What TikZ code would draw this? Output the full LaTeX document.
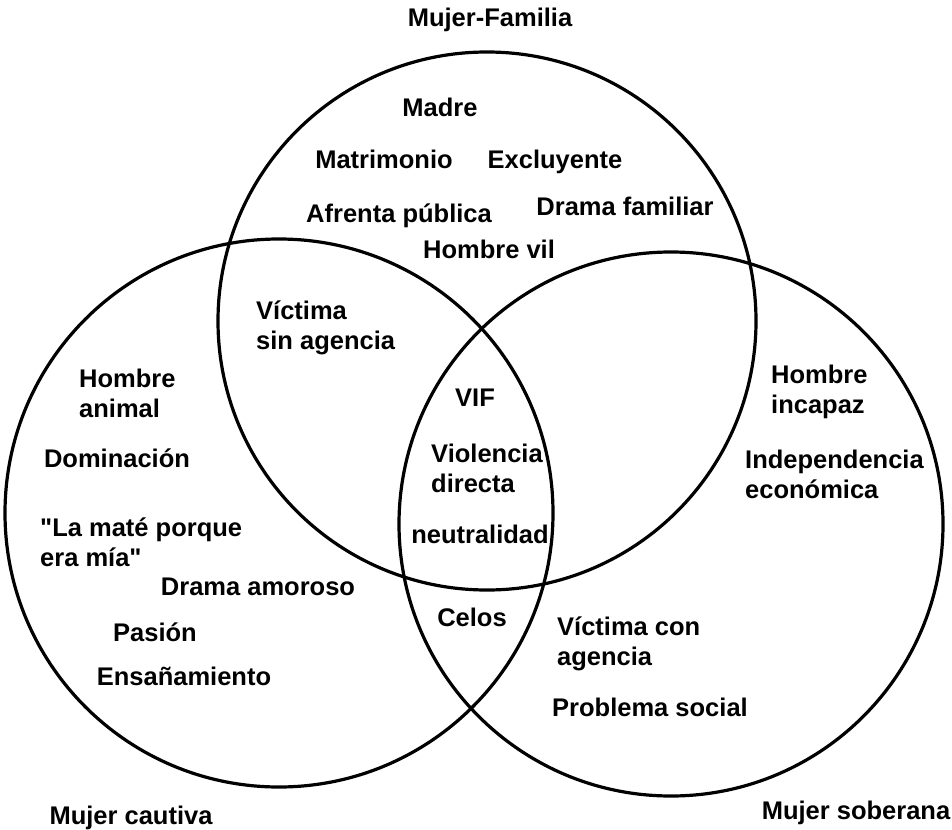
\documentclass[tikz,border=0pt]{standalone}
\usepackage{fontspec}
\setmainfont{Liberation Sans}
\usepackage{tikz}

\begin{document}
\begin{tikzpicture}[x=1pt, y=-1pt,
            conjunto/.style={draw, circle, line width=3.2pt, inner sep=0pt},
            term/.style={font=\fontsize{25.5}{30}\selectfont\bfseries, inner sep=0pt, text height=18pt, text depth=0pt},
            terms/.style={font=\fontsize{25.5}{30}\selectfont\bfseries, inner sep=0pt, align=left, anchor=west}]

            \useasboundingbox (0,0) rectangle (952,829);

            % los tres conjuntos
            \node[conjunto, minimum size=538pt] (familia) at (487,321) {};
            \node[conjunto, minimum size=548pt] (cautiva) at (279,513) {};
            \node[conjunto, minimum size=544pt] (soberana) at (671,524) {};

            \node[term] (tfamilia) at (490,18) {Mujer-Familia};
            \node[term] (tcautiva) at (131,815) {Mujer cautiva};
            \node[term] (tsoberana) at (856,810) {Mujer soberana};

            % Mujer-Familia
            \node[term] (madre) at (440,108) {Madre};
            \node[term] (matrimonio) at (384,160) {Matrimonio};
            \node[term] (excluyente) at (555,159) {Excluyente};
            \node[term] (afrenta) at (399,213) {Afrenta pública};
            \node[term] (dramafam) at (625,206) {Drama familiar};
            \node[term] (vil) at (489,249) {Hombre vil};
            \node[terms] (sinagencia) at (256,328) {Víctima\\sin agencia};

            % Mujer cautiva
            \node[terms] (animal) at (79,393) {Hombre\\animal};
            \node[term] (dominacion) at (117,458) {Dominación};
            \node[terms] (mate) at (40,542) {\textquotedbl La maté porque\\era mía\textquotedbl};
            \node[term] (dramaam) at (258,586) {Drama amoroso};
            \node[term] (pasion) at (155,632) {Pasión};
            \node[term] (ensana) at (184,676) {Ensañamiento};

            % centro
            \node[term] (vif) at (475,397) {VIF};
            \node[terms] (directa) at (431,468) {Violencia\\directa};
            \node[term] (neutral) at (480,534) {neutralidad};
            \node[term] (celos) at (472,617) {Celos};

            % Mujer soberana
            \node[terms] (incapaz) at (771,392) {Hombre\\incapaz};
            \node[terms] (independencia) at (745,474) {Independencia\\económica};
            \node[terms] (conagencia) at (557,644) {Víctima con\\agencia};
            \node[term] (problema) at (650,707) {Problema social};
        \end{tikzpicture}
\end{document}
